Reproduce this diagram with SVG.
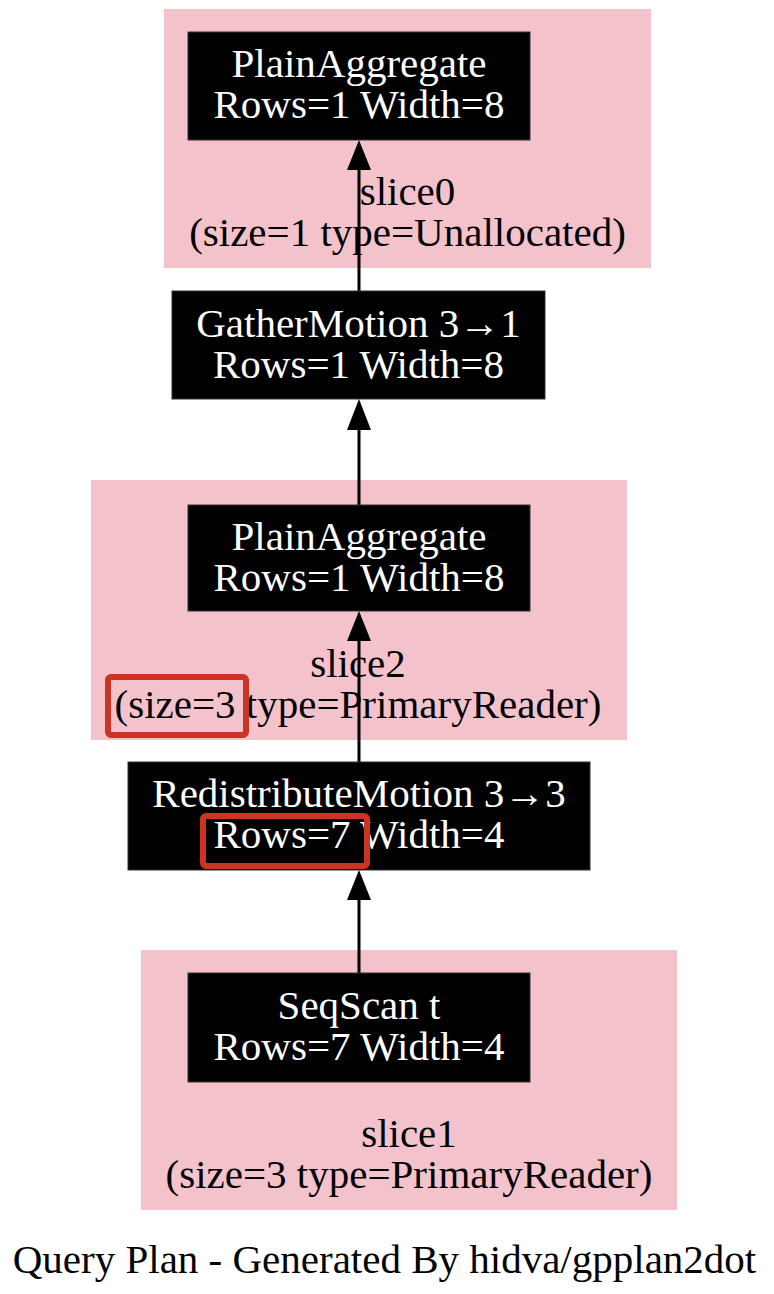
<svg xmlns="http://www.w3.org/2000/svg" width="774" height="1294" viewBox="0 0 774 1294">
<style>
.bg{fill:#ffffff}
.cluster{fill:#f4c2cb;stroke:none}
.node{fill:#000000;stroke:#333333;stroke-width:1}
.nt{font-family:"Liberation Serif","Times New Roman",serif;font-size:41px;fill:#ffffff;text-anchor:middle}
.ct{font-family:"Liberation Serif","Times New Roman",serif;font-size:41px;fill:#000000;text-anchor:middle}
.edge{stroke:#000000;stroke-width:3;fill:none}
.hl{fill:none;stroke:#cb3322;stroke-width:6}
</style>
<rect class="bg" x="0" y="0" width="774" height="1294"/>
<g id="slice0">
<rect class="cluster" x="164" y="9" width="487" height="259"/>
<text class="ct" x="407.5" y="205">slice0</text>
<text class="ct" x="407.5" y="246">(size=1 type=Unallocated)</text>
</g>
<g id="slice2">
<rect class="cluster" x="91" y="480" width="536" height="260"/>
<text class="ct" x="358" y="677">slice2</text>
<text class="ct" x="358" y="718">(size=3 type=PrimaryReader)</text>
</g>
<g id="slice1">
<rect class="cluster" x="141" y="950" width="536" height="260"/>
<text class="ct" x="409" y="1147">slice1</text>
<text class="ct" x="409" y="1188">(size=3 type=PrimaryReader)</text>
</g>
<g id="edges">
<line class="edge" x1="359" y1="291" x2="359" y2="168"/>
<path d="M347,170 L359,140 L371,170 Z" fill="#000"/>
<line class="edge" x1="359" y1="505" x2="359" y2="428"/>
<path d="M347,430 L359,399 L371,430 Z" fill="#000"/>
<line class="edge" x1="359" y1="762" x2="359" y2="639"/>
<path d="M347,641 L359,611 L371,641 Z" fill="#000"/>
<line class="edge" x1="359" y1="973" x2="359" y2="898"/>
<path d="M347,900 L359,870 L371,900 Z" fill="#000"/>
</g>
<g id="node_plainaggregate0">
<rect class="node" x="188" y="32" width="342" height="108"/>
<text class="nt" x="359" y="77">PlainAggregate</text>
<text class="nt" x="359" y="118">Rows=1 Width=8</text>
</g>
<g id="node_gathermotion">
<rect class="node" x="172" y="291" width="373" height="108"/>
<text class="nt" x="358.5" y="337">GatherMotion 3→1</text>
<text class="nt" x="358.5" y="378">Rows=1 Width=8</text>
</g>
<g id="node_plainaggregate2">
<rect class="node" x="188" y="505" width="342" height="106"/>
<text class="nt" x="359" y="550">PlainAggregate</text>
<text class="nt" x="359" y="591">Rows=1 Width=8</text>
</g>
<g id="node_redistributemotion">
<rect class="node" x="128" y="762" width="462" height="108"/>
<text class="nt" x="359" y="807">RedistributeMotion 3→3</text>
<text class="nt" x="359" y="848">Rows=7 Width=4</text>
</g>
<g id="node_seqscan">
<rect class="node" x="188" y="973" width="342" height="109"/>
<text class="nt" x="359" y="1019">SeqScan t</text>
<text class="nt" x="359" y="1060">Rows=7 Width=4</text>
</g>
<g id="highlights">
<rect class="hl" x="108" y="677" width="138" height="58" rx="3"/>
<rect class="hl" x="203" y="816" width="164" height="50" rx="3"/>
</g>
<g id="footer">
<text class="ct" x="384.5" y="1273">Query Plan - Generated By hidva/gpplan2dot</text>
</g>
</svg>
